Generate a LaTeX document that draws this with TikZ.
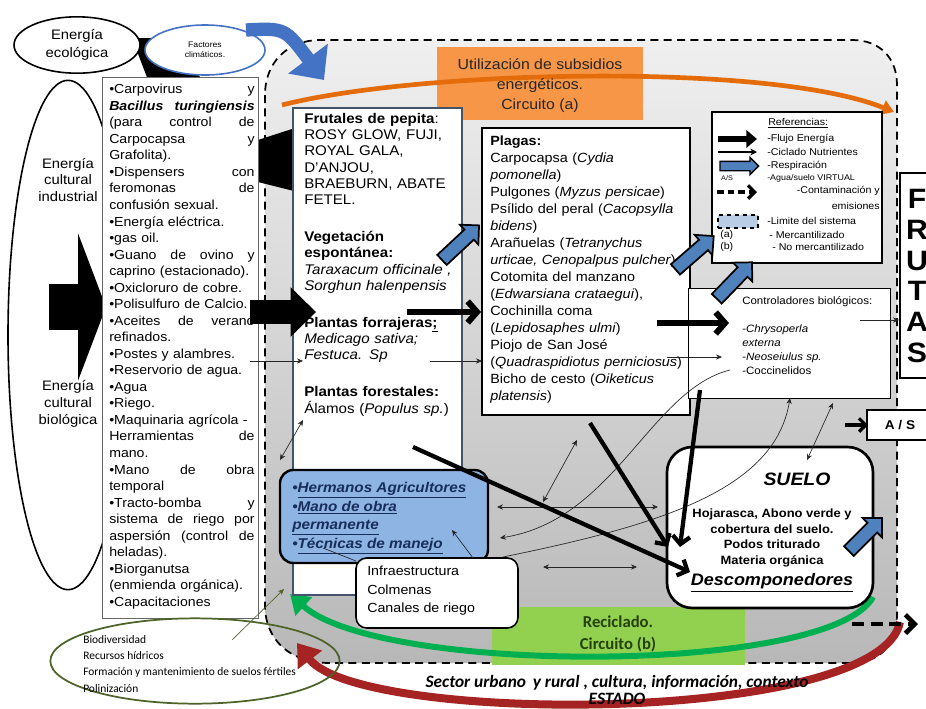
\documentclass[tikz,border=0pt]{standalone}
\usepackage{fontspec}
\setmainfont{Liberation Sans}[FakeStretch=1.08]
\newfontfamily\califont{Carlito}
\usetikzlibrary{arrows.meta, positioning, shapes.geometric, shapes.arrows, fit, calc}
\definecolor{subOrange}{RGB}{247,150,70}
\definecolor{arcOrange}{RGB}{228,108,10}
\definecolor{recGreen}{RGB}{146,208,80}
\definecolor{recText}{RGB}{38,64,10}
\definecolor{arcGreen}{RGB}{0,176,80}
\definecolor{arcRed}{RGB}{165,35,35}
\definecolor{respBlue}{RGB}{79,129,189}
\definecolor{climBlue}{RGB}{68,114,196}
\definecolor{humBlue}{RGB}{142,180,227}
\definecolor{humText}{RGB}{23,45,90}
\definecolor{bioOlive}{RGB}{79,98,40}
\definecolor{fruBorder}{RGB}{68,84,106}
\definecolor{limBlue}{RGB}{185,205,229}
\tikzset{
  box/.style={draw=black, fill=white, inner sep=0pt, line width=0.7pt},
  txt/.style={inner sep=0pt, anchor=north west, align=left},
  reftxt/.style={inner sep=0pt, anchor=west, font=\fontsize{7.4}{9}\selectfont},
  thinarr/.style={black!85, line width=0.5pt, -{Stealth[length=4.5pt,width=4pt]}},
  thinboth/.style={black!85, line width=0.5pt, {Stealth[length=4.5pt,width=4pt]}-{Stealth[length=4.5pt,width=4pt]}},
  flowarr/.style={line width=4.5pt, -{Straight Barb[length=7pt,width=16pt]}},
  soilarr/.style={line width=3.2pt, -{Straight Barb[length=6pt,width=13pt]}},
  resparr/.style={single arrow, draw=black, line width=1.3pt, fill=respBlue, inner sep=4.5pt, single arrow head extend=5pt, minimum height=38pt},
}
\begin{document}
\begin{tikzpicture}[x=0.75pt, y=-0.75pt]
  \useasboundingbox (0,0) rectangle (926,708);
  \fill[white] (0,0) rectangle (926,708);
  % limite del sistema
  \draw[dash pattern=on 6pt off 4pt, line width=1.3pt, top color=black!6, bottom color=black!28]
    (265,95) -- (265,605) .. controls (265,640) and (290,663) .. (330,663) -- (850,663)
    .. controls (880,663) and (897,645) .. (897,615) -- (897,85)
    .. controls (897,58) and (880,40) .. (852,40) -- (320,40)
    .. controls (288,40) and (265,62) .. (265,95) -- cycle;
  % circuito (a)
  \node[fill=subOrange, inner sep=0pt, fit={(437,47) (643,120)}] (subsidios) {};
  \coordinate (orA) at (282,105);
  \coordinate (orB) at (894,112);
  \draw[arcOrange, line width=3.5pt, -{Triangle[length=9pt,width=11pt]}]
    (orA) .. controls (420,70) and (770,62) .. (orB);
  \node[align=center, font=\fontsize{11}{15}\selectfont, text=black!85] (subsidiosTxt) at (540,86)
    {Utilización de subsidios\\energéticos.\\Circuito (a)};
  % circuito (b)
  \node[fill=recGreen, inner sep=0pt, fit={(492,607) (745,665)}] (reciclado) {};
  \coordinate (grA) at (873,597);
  \coordinate (grB) at (290,594);
  \draw[arcGreen, line width=4.5pt, -{Triangle[length=14pt,width=18pt]}]
    (grA) .. controls (830,675) and (380,675) .. (grB);
  \node[align=center, font=\califont\bfseries\fontsize{12.5}{16.5}\selectfont, text=recText] (recicladoTxt)
    at (618,634) {Reciclado.\\Circuito (b)};
  % sector urbano y rural
  \coordinate (rdA) at (900,622);
  \coordinate (rdB) at (297,643);
  \draw[arcRed, line width=6pt, -{Triangle[length=16pt,width=22pt]}]
    (rdA) .. controls (880,725) and (360,725) .. (rdB);
  \node[font=\califont\bfseries\itshape\fontsize{13}{14}\selectfont] (sector) at (617,683)
    {Sector urbano\, y rural , cultura, información, contexto};
  \node[font=\califont\bfseries\itshape\fontsize{13}{14}\selectfont] (estado) at (617,699) {ESTADO};
  % energia ecologica
  \fill[black] (132,38) -- (160,38) -- (195,72) -- (240,115) -- (258,140) -- (298,127)
    -- (298,192) -- (258,182) -- (148,80) -- cycle;
  \node[ellipse, draw, line width=1.2pt, fill=white, minimum width=94.5pt, minimum height=40.5pt,
    align=center, font=\fontsize{10.3}{13.5}\selectfont] (ecologica) at (77,45) {Energía\\ecológica};
  \node[ellipse, draw=climBlue, line width=1.2pt, fill=white, minimum width=90pt, minimum height=37.5pt,
    align=center, font=\fontsize{6}{7.5}\selectfont] (climaticos) at (205,50) {Factores\\climáticos.};
  \coordinate (clA) at (246,30);
  \coordinate (clB) at (324,80);
  \draw[climBlue, line width=10pt, -{Triangle[length=20pt,width=36pt]}]
    (clA) .. controls (285,28) .. (clB);
  % energia cultural
  \node[ellipse, draw, line width=1.2pt, fill=white, minimum width=90pt, minimum height=382pt] (cultural) at (68,335) {};
  \node[align=center, font=\fontsize{10.3}{12.5}\selectfont] (industrial) at (68,180) {Energía\\cultural\\industrial};
  \node[align=center, font=\fontsize{10.3}{12.5}\selectfont] (biologica) at (68,404) {Energía\\cultural\\biológica};
  \coordinate (bigA) at (49,307);
  \coordinate (bigB) at (106,307);
  \draw[line width=34pt, -{Triangle[length=21pt,width=110pt]}] (bigA) -- (bigB);
  % insumos
  \node[box, draw=black!60, line width=0.6pt, fit={(102,77) (258,618)}] (lista) {};
  \node[txt, text width=109pt, font=\fontsize{9.8}{12.4}\selectfont] (listaTxt) at (109,84) {%
    •Carpovirus\hfill y\\
    \textbf{\textit{Bacillus\hfill turingiensis}}\\
    (para\hfill control\hfill de\\
    Carpocapsa\hfill y\\
    Grafolita).\\
    •Dispensers\hfill con\\
    feromonas\hfill de\\
    confusión sexual.\\
    •Energía eléctrica.\\
    •gas oil.\\
    •Guano\hfill de\hfill ovino\hfill y\\
    caprino (estacionado).\\
    •Oxicloruro de cobre.\\
    •Polisulfuro de Calcio.\\
    •Aceites\hfill de\hfill verano\\
    refinados.\\
    •Postes y alambres.\\
    •Reservorio de agua.\\
    •Agua\\
    •Riego.\\
    •Maquinaria agrícola -\\
    Herramientas\hfill de\\
    mano.\\
    •Mano\hfill de\hfill obra\\
    temporal\\
    •Tracto-bomba\hfill y\\
    sistema\hfill de\hfill riego\hfill por\\
    aspersión\hfill (control\hfill de\\
    heladas).\\
    •Biorganutsa\\
    (enmienda orgánica).\\
    •Capacitaciones};
  % cultivos
  \node[box, draw=fruBorder, line width=1.2pt, fit={(293,108) (462,595)}] (frutales) {};
  \node[txt, text width=118pt, font=\fontsize{10.5}{12.2}\selectfont] (frutalesTxt) at (304,113) {%
    \textbf{Frutales de pepita}:\\
    ROSY GLOW, FUJI,\\
    ROYAL GALA,\\
    D'ANJOU,\\
    BRAEBURN, ABATE\\
    FETEL.\\[15.5pt]
    \textbf{Vegetación}\\
    \textbf{espontánea:}\\
    \textit{Taraxacum officinale ,}\\
    \textit{Sorghun halenpensis}\\[15.5pt]
    \textbf{Plantas forrajeras\underline{;}}\\
    \textit{Medicago sativa;}\\
    \textit{Festuca. Sp}\\[15.5pt]
    \textbf{Plantas forestales:}\\
    Álamos (\textit{Populus sp.})};
  \coordinate (insA) at (250,312);
  \coordinate (insB) at (316,312);
  \draw[line width=18pt, -{Triangle[length=19pt,width=36pt]}] (insA) -- (insB);
  % plagas
  \node[box, line width=0.8pt, fit={(482,128) (690,415)}] (plagas) {};
  \node[txt, text width=150pt, font=\fontsize{10}{12.75}\selectfont] (plagasTxt) at (490,136) {%
    \textbf{Plagas:}\\
    Carpocapsa (\textit{Cydia}\\
    \textit{pomonella})\\
    Pulgones (\textit{Myzus persicae})\\
    Psílido del peral (\textit{Cacopsylla}\\
    \textit{bidens})\\
    Arañuelas (\textit{Tetranychus}\\
    \textit{urticae, Cenopalpus pulcher})\\
    Cotomita del manzano\\
    (\textit{Edwarsiana crataegui}),\\
    Cochinilla coma\\
    (\textit{Lepidosaphes ulmi})\\
    Piojo de San José\\
    (\textit{Quadraspidiotus perniciosus})\\
    Bicho de cesto (\textit{Oiketicus}\\
    \textit{platensis})};
  % controladores
  \node[box, line width=0.6pt, fit={(688,288) (890,398)}] (controladores) {};
  \node[txt, font=\fontsize{8}{10.5}\selectfont] (controladoresTxt) at (742,296) {%
    Controladores biológicos:\\[10.5pt]
    -\textit{Chrysoperla}\\
    \textit{externa}\\
    -\textit{Neoseiulus sp.}\\
    -Coccinelidos};
  % referencias
  \node[box, line width=0.8pt, fit={(712,112) (882,263)}] (referencias) {};
  \node[reftxt] (refTit) at (768,123) {\underline{Referencias:}};
  \coordinate (rfA) at (718,139); \coordinate (rfB) at (757,139);
  \draw[line width=5pt, -{Triangle[length=8pt,width=13pt]}] (rfA) -- (rfB);
  \node[reftxt] (refFlujo) at (767,139) {-Flujo Energía};
  \coordinate (rcA) at (718,152); \coordinate (rcB) at (757,152);
  \draw[line width=0.8pt, -{Stealth[length=5pt,width=5pt]}] (rcA) -- (rcB);
  \node[reftxt] (refCiclo) at (767,152) {-Ciclado Nutrientes};
  \node[resparr, minimum height=29pt, inner sep=3pt, single arrow head extend=3pt, line width=1pt] (refResp) at (737,166) {};
  \node[reftxt] (refRespTxt) at (767,166) {-Respiración};
  \node[inner sep=0pt, font=\fontsize{5}{6}\selectfont] (refAS) at (727,178) {A/S};
  \node[reftxt, font=\fontsize{6.2}{7}\selectfont] (refVirtual) at (767,178) {-Agua/suelo VIRTUAL};
  \coordinate (rdsA) at (717,192); \coordinate (rdsB) at (757,192);
  \draw[line width=2.5pt, dash pattern=on 5pt off 3pt, -{Straight Barb[length=5pt,width=10pt]}] (rdsA) -- (rdsB);
  \node[reftxt, anchor=east] (refCont) at (880,191) {-Contaminación y};
  \node[reftxt, anchor=east] (refEmis) at (880,206) {emisiones};
  \node[draw, dashed, line width=1.2pt, fill=limBlue, inner sep=0pt, fit={(718,215) (758,228)}] (refLim) {};
  \node[reftxt] (refLimTxt) at (767,221) {-Limite del sistema};
  \node[reftxt] (refA) at (720,235) {(a)};
  \node[reftxt] (refMerc) at (769,235) {- Mercantilizado};
  \node[reftxt] (refB) at (720,247) {(b)};
  \node[reftxt] (refNoMerc) at (772,247) {- No mercantilizado};
  % salidas
  \node[box, line width=2.2pt, fit={(900,173) (940,378)}] (frutas) {};
  \node[align=center, inner sep=0pt, font=\bfseries\fontsize{21}{23}\selectfont] (frutasTxt) at (917,276) {F\\R\\U\\T\\A\\S};
  \node[box, line width=1pt, fit={(867,410) (940,440)}] (asbox) {};
  \node[font=\bfseries\fontsize{9.5}{11}\selectfont] (asTxt) at (900,425) {A / S};
  % suelo
  \node[box, rounded corners=19pt, line width=2pt, fit={(667,447) (873,608)}] (suelo) {};
  \node[font=\bfseries\itshape\fontsize{13.5}{15}\selectfont] (sueloTit) at (797,479) {SUELO};
  \node[align=center, font=\bfseries\fontsize{9}{11.6}\selectfont] (sueloTxt) at (772,538)
    {Hojarasca, Abono verde y\\cobertura del suelo.\\Podos triturado\\Materia orgánica};
  \node[font=\bfseries\itshape\fontsize{12.5}{14}\selectfont] (descomp) at (772,583) {\underline{Descomponedores}};
  % manejo
  \node[box, fill=humBlue, rounded corners=10pt, line width=1.8pt, fit={(280,470) (488,563)}] (hermanos) {};
  \node[txt, text=humText, font=\bfseries\itshape\fontsize{10.6}{13.9}\selectfont] (hermanosTxt) at (292,482)
    {•\underline{Hermanos Agricultores}\\•\underline{Mano de obra}\\\underline{permanente}\\•\underline{Técnicas de manejo}};
  \node[box, rounded corners=8pt, line width=1.2pt, fit={(356,558) (518,628)}] (infra) {};
  \node[txt, font=\fontsize{9.9}{13.9}\selectfont] (infraTxt) at (367,566) {Infraestructura\\Colmenas\\Canales de riego};
  % servicios ecosistemicos
  \node[ellipse, draw=bioOlive, line width=1.3pt, minimum width=217pt, minimum height=64pt] (servicios) at (195,661) {};
  \node[txt, font=\califont\fontsize{8.6}{12.2}\selectfont] (serviciosTxt) at (83,635)
    {Biodiversidad\\Recursos hídricos\\Formación y mantenimiento de suelos fértiles\\Polinización};
  \coordinate (svA) at (232,640); \coordinate (svB) at (284,589);
  \draw[thinarr, bioOlive] (svA) -- (svB);
  % ciclado de nutrientes
  \coordinate (n1a) at (250,361); \coordinate (n1b) at (303,361);
  \draw[thinarr] (n1a) -- (n1b);
  \coordinate (n2a) at (430,361); \coordinate (n2b) at (482,361);
  \draw[thinarr] (n2a) -- (n2b);
  \coordinate (n3a) at (667,357); \coordinate (n3b) at (722,357);
  \draw[thinarr] (n3a) -- (n3b);
  \coordinate (n4a) at (280,460); \coordinate (n4b) at (303,420);
  \draw[thinboth] (n4a) -- (n4b);
  \coordinate (n6a) at (497,507); \coordinate (n6b) at (658,507);
  \draw[thinboth] (n6a) -- (n6b);
  \coordinate (n7a) at (730,370); \coordinate (n7b) at (500,538);
  \draw[thinarr] (n7a) .. controls (650,390) and (615,520) .. (n7b);
  \coordinate (n8a) at (503,557); \coordinate (n8b) at (790,398);
  \draw[thinarr] (n8a) .. controls (660,525) and (775,490) .. (n8b);
  \coordinate (n9a) at (543,567); \coordinate (n9b) at (637,567);
  \draw[thinboth] (n9a) -- (n9b);
  \coordinate (n10a) at (543,502); \coordinate (n10b) at (577,440);
  \draw[thinboth] (n10a) -- (n10b);
  \coordinate (n11a) at (833,403); \coordinate (n11b) at (807,460);
  \draw[thinboth] (n11a) -- (n11b);
  \coordinate (n12a) at (860,320); \coordinate (n12b) at (899,320);
  \draw[thinarr] (n12a) -- (n12b);
  \coordinate (n13a) at (473,558); \coordinate (n13b) at (452,530);
  \draw[thinarr] (n13a) -- (n13b);
  \coordinate (n14a) at (323,548); \coordinate (n14b) at (356,561);
  \draw[black!85, line width=0.5pt] (n14a) -- (n14b);
  % flujo de energia
  \coordinate (k1a) at (407,312); \coordinate (k1b) at (481,312);
  \draw[flowarr] (k1a) -- (k1b);
  \coordinate (k2a) at (657,323); \coordinate (k2b) at (729,323);
  \draw[flowarr] (k2a) -- (k2b);
  \coordinate (t1a) at (413,447); \coordinate (t1b) at (690,572);
  \draw[soilarr] (t1a) -- (t1b);
  \coordinate (t2a) at (590,423); \coordinate (t2b) at (668,547);
  \draw[soilarr] (t2a) -- (t2b);
  \coordinate (t3a) at (700,390); \coordinate (t3b) at (680,547);
  \draw[soilarr] (t3a) -- (t3b);
  \coordinate (asA) at (845,425); \coordinate (asB) at (868,425);
  \draw[line width=2.5pt, -{Straight Barb[length=5pt,width=10pt]}] (asA) -- (asB);
  \coordinate (ctA) at (852,624); \coordinate (ctB) at (918,624);
  \draw[line width=3.5pt, dash pattern=on 9pt off 5pt, -{Straight Barb[length=7pt,width=14pt]}] (ctA) -- (ctB);
  % respiracion
  \node[resparr, rotate=43] (resp1) at (458,245) {};
  \node[resparr, rotate=41] (resp2) at (692,255) {};
  \node[resparr, rotate=46] (resp3) at (732,283) {};
  \node[resparr, rotate=45, minimum height=35pt] (resp4) at (863,537) {};
\end{tikzpicture}
\end{document}
